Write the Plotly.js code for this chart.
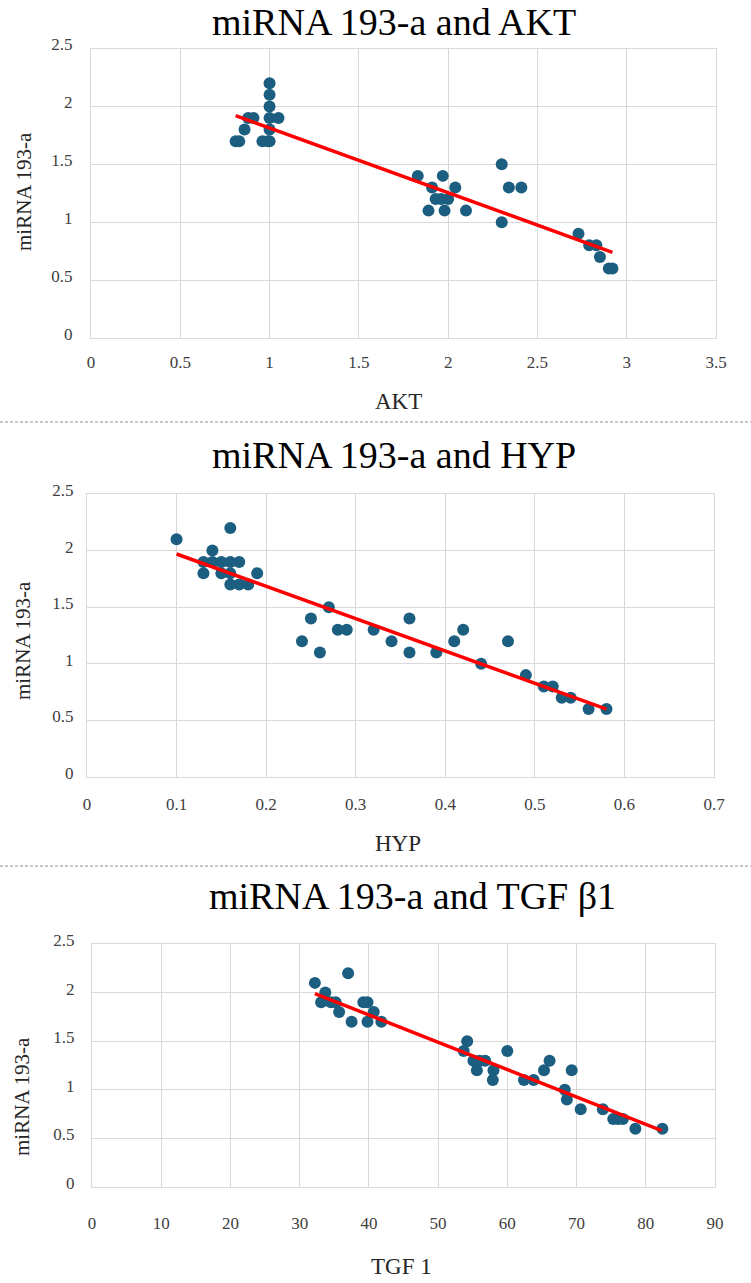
<!DOCTYPE html>
<html>
<head>
<meta charset="utf-8">
<script src="https://cdn.plot.ly/plotly-3.0.1.min.js"></script>
<style>
html,body{margin:0;padding:0;background:#fff;}
#chart{width:751px;height:1283px;}
</style>
</head>
<body>
<div id="chart"></div>
<script>
// ---- Data ----
const chartTitles = ["miRNA 193-a and AKT", "miRNA 193-a and HYP", "miRNA 193-a and TGF β1"];
const xTitles = ["AKT", "HYP", "TGF 1"];
const yTitle = "miRNA 193-a";

const aktX = [0.81,0.83,0.86,0.88,0.91,0.96,0.99,1.0,1.0,1.0,1.0,1.0,1.0,1.05,1.83,1.91,1.97,2.04,1.93,1.96,2.0,1.89,1.98,2.1,2.3,2.34,2.41,2.3,2.73,2.79,2.83,2.85,2.9,2.92];
const aktY = [1.7,1.7,1.8,1.9,1.9,1.7,1.7,2.2,2.1,2.0,1.9,1.8,1.7,1.9,1.4,1.3,1.4,1.3,1.2,1.2,1.2,1.1,1.1,1.1,1.5,1.3,1.3,1.0,0.9,0.8,0.8,0.7,0.6,0.6];
const aktTrendX = [0.81, 2.92];
const aktTrendY = [1.92, 0.74];

const hypX = [0.10,0.13,0.13,0.14,0.14,0.15,0.15,0.16,0.16,0.16,0.16,0.17,0.17,0.18,0.19,0.24,0.25,0.26,0.27,0.28,0.29,0.32,0.34,0.36,0.36,0.39,0.41,0.42,0.44,0.47,0.49,0.51,0.52,0.53,0.54,0.56,0.58];
const hypY = [2.1,1.9,1.8,2.0,1.9,1.9,1.8,2.2,1.9,1.8,1.7,1.9,1.7,1.7,1.8,1.2,1.4,1.1,1.5,1.3,1.3,1.3,1.2,1.4,1.1,1.1,1.2,1.3,1.0,1.2,0.9,0.8,0.8,0.7,0.7,0.6,0.6];
const hypTrendX = [0.10, 0.58];
const hypTrendY = [1.97, 0.60];

const tgfX = [32.2,33.1,33.7,34.5,35.2,35.7,37.0,37.5,39.2,39.8,39.8,40.7,41.8,53.7,54.2,55.1,55.6,56.0,56.8,58.0,57.9,60.0,62.4,63.8,65.3,66.1,68.3,68.6,69.3,70.6,73.8,75.3,76.0,76.7,78.5,82.4];
const tgfY = [2.1,1.9,2.0,1.9,1.9,1.8,2.2,1.7,1.9,1.9,1.7,1.8,1.7,1.4,1.5,1.3,1.2,1.3,1.3,1.2,1.1,1.4,1.1,1.1,1.2,1.3,1.0,0.9,1.2,0.8,0.8,0.7,0.7,0.7,0.6,0.6];
const tgfTrendX = [32.2, 82.3];
const tgfTrendY = [1.99, 0.58];

const xRanges = [[0, 3.5], [0, 0.7], [0, 90]];
const xDticks = [0.5, 0.1, 10];
const yRange = [0, 2.5];
const yDtick = 0.5;

// ---- Styling ----
const W = 751, H = 1283;
const FONT = "Liberation Serif";
const dotColor = "#1c5e80";
const lineColor = "#ff0000";
const gridColor = "#d9d9d9";

function px(x){ return x / W; }
function py(y){ return 1 - y / H; }

// plot boxes in pixels [left, right, top, bottom]
const boxes = [
  [91, 716, 48.5, 338],
  [87, 714, 494, 777],
  [92, 715, 944, 1187]
];
const xLabelStandoff = [9, 12, 21];
const yLabelStandoff = [14, 9, 13];

const seriesX = [aktX, hypX, tgfX];
const seriesY = [aktY, hypY, tgfY];
const trendX = [aktTrendX, hypTrendX, tgfTrendX];
const trendY = [aktTrendY, hypTrendY, tgfTrendY];

const traces = [];
const layout = {
  width: W, height: H,
  margin: {l:0, r:0, t:0, b:0},
  paper_bgcolor: "#fff",
  plot_bgcolor: "#fff",
  showlegend: false,
  font: {family: FONT, color: "#404040"},
  annotations: [],
  shapes: []
};

for (let i = 0; i < 3; i++) {
  const sfx = i === 0 ? "" : String(i + 1);
  const b = boxes[i];
  traces.push({
    x: seriesX[i], y: seriesY[i], type: "scatter", mode: "markers",
    xaxis: "x" + sfx, yaxis: "y" + sfx,
    marker: {color: dotColor, size: 12},
    hoverinfo: "x+y"
  });
  traces.push({
    x: trendX[i], y: trendY[i], type: "scatter", mode: "lines",
    xaxis: "x" + sfx, yaxis: "y" + sfx,
    line: {color: lineColor, width: 3.5},
    hoverinfo: "skip"
  });
  layout["xaxis" + sfx] = {
    domain: [px(b[0]), px(b[1])],
    anchor: "y" + sfx,
    range: xRanges[i], dtick: xDticks[i], tick0: 0,
    showgrid: true, gridcolor: gridColor, gridwidth: 1,
    zeroline: false, showline: true, linecolor: gridColor, linewidth: 1, mirror: true,
    ticks: "", ticklabelstandoff: xLabelStandoff[i],
    tickfont: {family: FONT, size: 17, color: "#404040"},
    fixedrange: true
  };
  layout["yaxis" + sfx] = {
    domain: [py(b[3]), py(b[2])],
    anchor: "x" + sfx,
    range: yRange, dtick: yDtick, tick0: 0,
    showgrid: true, gridcolor: gridColor, gridwidth: 1,
    zeroline: false, showline: true, linecolor: gridColor, linewidth: 1, mirror: true,
    ticks: "", ticklabelstandoff: yLabelStandoff[i], ticklabelshift: -4,
    tickfont: {family: FONT, size: 17, color: "#404040"},
    fixedrange: true
  };
}

// Chart titles
const titlePos = [[394, 22], [394, 455], [412, 896]];
const xTitlePos = [[398, 401], [398, 843], [401, 1266]];
const yTitlePos = [[24, 192], [23, 641], [22, 1097]];
for (let i = 0; i < 3; i++) {
  layout.annotations.push({
    text: chartTitles[i], xref: "paper", yref: "paper",
    x: px(titlePos[i][0]), y: py(titlePos[i][1]),
    xanchor: "center", yanchor: "middle", showarrow: false,
    font: {family: FONT, size: 38, color: "#000"}
  });
  layout.annotations.push({
    text: xTitles[i], xref: "paper", yref: "paper",
    x: px(xTitlePos[i][0]), y: py(xTitlePos[i][1]),
    xanchor: "center", yanchor: "middle", showarrow: false,
    font: {family: FONT, size: 23, color: "#262626"}
  });
  layout.annotations.push({
    text: yTitle, xref: "paper", yref: "paper",
    x: px(yTitlePos[i][0]), y: py(yTitlePos[i][1]),
    xanchor: "center", yanchor: "middle", showarrow: false, textangle: -90,
    font: {family: FONT, size: 21, color: "#262626"}
  });
}

// Dashed separators
[422, 866].forEach(function(yy){
  layout.shapes.push({
    type: "line", xref: "paper", yref: "paper",
    x0: 0, x1: 1, y0: py(yy), y1: py(yy),
    line: {color: "#8c8c8c", width: 1, dash: "3px,2px"}
  });
});

Plotly.newPlot("chart", traces, layout, {displayModeBar: false, staticPlot: true});
</script>
</body>
</html>
